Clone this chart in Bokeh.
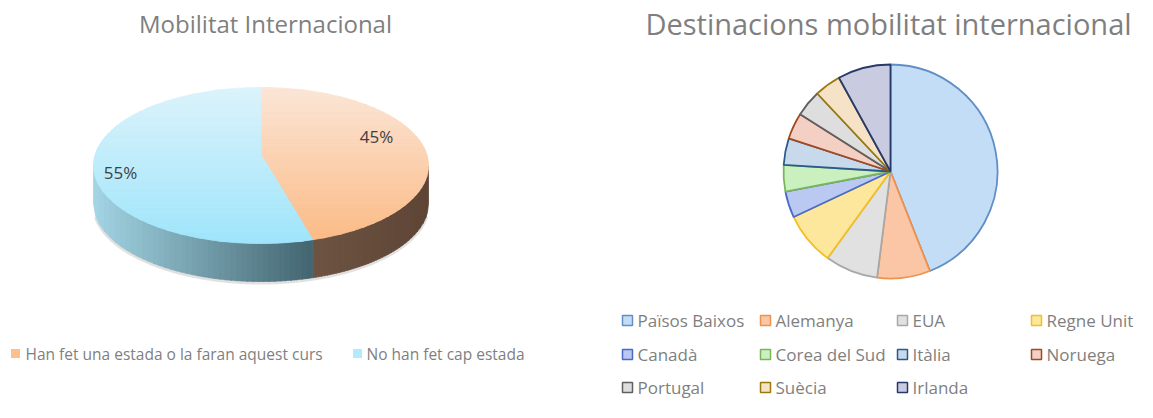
import numpy as np
from bokeh.plotting import figure
from bokeh.models import Range1d, ColumnDataSource
from bokeh.core.properties import value
from bokeh.embed import file_html
from bokeh.resources import INLINE

# ---------------- data ----------------
mob_title = "Mobilitat Internacional"
mob_labels = ["Han fet una estada o la faran aquest curs", "No han fet cap estada"]
mob_values = [45, 55]

dest_title = "Destinacions mobilitat internacional"
dest_labels = ["Països Baixos", "Alemanya", "EUA", "Regne Unit", "Canadà",
               "Corea del Sud", "Itàlia", "Noruega", "Portugal", "Suècia", "Irlanda"]
dest_values = [11, 2, 2, 2, 1, 1, 1, 1, 1, 1, 2]

# ---------------- styles ----------------
dest_fill = ["#c4ddf7", "#fbc6a6", "#e1e1e1", "#fde79c", "#b9c9f2", "#cbf0c0",
             "#c9d9ec", "#f4cfc4", "#dedede", "#f6e2c6", "#c9cce0"]
dest_line = ["#5f8fc4", "#f0914e", "#a8a8a8", "#f2c020", "#4a6ac8", "#7ab55c",
             "#2a5a8a", "#a04a20", "#606060", "#9a7a10", "#253a6a"]
mob_top_grad = [("#fbe6d8", "#fbba84"), ("#dcf3fb", "#9fe5fb")]
mob_side_grad = [("#6e5442", "#5e4536"), ("#a3d5e4", "#436570")]
mob_legend_col = ["#fcbf8d", "#b0ecfc"]
TXT = "#7f7f7f"
FONT = "Open Sans"

W, H = 1137, 402
p = figure(width=W, height=H, output_backend="svg", toolbar_location=None,
           x_range=Range1d(0, W), y_range=Range1d(-H, 0),
           min_border=0, x_axis_location=None, y_axis_location=None,
           outline_line_color=None, background_fill_color="white")
p.grid.visible = False


def hex2rgb(h):
    h = h.lstrip("#")
    return np.array([int(h[i:i + 2], 16) for i in (0, 2, 4)], dtype=float)


def lerp(c0, c1, t):
    c = hex2rgb(c0) * (1 - t) + hex2rgb(c1) * t
    return "#%02x%02x%02x" % tuple(int(round(v)) for v in c)


def clip(poly, inside, inter):
    out = []
    n = len(poly)
    for i in range(n):
        cur, prev = poly[i], poly[i - 1]
        if inside(cur):
            if not inside(prev):
                out.append(inter(prev, cur))
            out.append(cur)
        elif inside(prev):
            out.append(inter(prev, cur))
    return out


def y_inter(Y):
    def f(a, b):
        t = (Y - a[1]) / (b[1] - a[1])
        return (a[0] + t * (b[0] - a[0]), Y)
    return f


# ---------------- left: 3D pie ----------------
cx, cy, a, b, depth = 260.5, 165.0, 167.5, 78.0, 38.0
apex = (260.5, 154.0)
fr = np.cumsum([0] + mob_values) / float(sum(mob_values))

top_xs, top_ys, top_cols = [], [], []
side_xs, side_ys, side_cols = [], [], []
NB = 44
for k in range(len(mob_values)):
    t0, t1 = 2 * np.pi * fr[k], 2 * np.pi * fr[k + 1]
    th = np.linspace(t0, t1, 160)
    poly = [apex] + [(cx + a * np.sin(t), cy - b * np.cos(t)) for t in th]
    edges = np.linspace(cy - b - 1, cy + b + 1, NB + 1)
    for j in range(NB):
        y0, y1 = edges[j], edges[j + 1] + 0.6
        q = clip(poly, lambda pt, y0=y0: pt[1] >= y0, y_inter(y0))
        if len(q) < 3:
            continue
        q = clip(q, lambda pt, y1=y1: pt[1] <= y1, y_inter(y1))
        if len(q) < 3:
            continue
        top_xs.append([pt[0] for pt in q])
        top_ys.append([-pt[1] for pt in q])
        top_cols.append(lerp(*mob_top_grad[k], (j + 0.5) / NB))
    # visible side: front half (pi/2 .. 3pi/2)
    s0, s1 = max(t0, np.pi / 2), min(t1, 3 * np.pi / 2)
    if s1 > s0:
        xa, xb = cx + a * np.sin(s0), cx + a * np.sin(s1)
        xl, xr = min(xa, xb), max(xa, xb)
        NS = 40
        xe = np.linspace(xl, xr, NS + 1)
        for j in range(NS):
            xx = np.linspace(xe[j], min(xe[j + 1] + 0.6, xr), 4)
            yt = cy + b * np.sqrt(np.clip(1 - ((xx - cx) / a) ** 2, 0, 1))
            sx = list(xx) + list(xx[::-1])
            sy = list(yt) + list((yt + depth)[::-1])
            side_xs.append(sx)
            side_ys.append([-v for v in sy])
            side_cols.append(lerp(*mob_side_grad[k], (j + 0.5) / NS))

# soft shadow below the side
xx = np.linspace(cx - a + 2, cx + a - 2, 200)
ysh = cy + b * np.sqrt(np.clip(1 - ((xx - cx) / a) ** 2, 0, 1)) + depth + 1.5
p.line(list(xx), list(-ysh), line_color="#bdbdbd", line_width=3, line_alpha=0.45)

p.patches(side_xs, side_ys, fill_color=side_cols, line_color=side_cols, line_width=0.8)
p.patches(top_xs, top_ys, fill_color=top_cols, line_color=top_cols, line_width=0.8)

pct = ["%d%%" % v for v in mob_values]
p.text(x=[376, 120], y=[-136, -172], text=pct, text_font=value(FONT),
       text_font_size="17px", text_color="#404040", text_align="center",
       text_baseline="middle")

p.text(x=[265], y=[-23], text=[mob_title], text_font=value(FONT),
       text_font_size="24px", text_color=TXT, text_align="center", text_baseline="middle")

p.scatter(x=[15, 357], y=[-353, -353], marker="square", size=9,
          fill_color=mob_legend_col, line_color=None)
p.text(x=[25, 366], y=[-353, -353], text=mob_labels, text_font=value(FONT),
       text_font_size="15.5px", text_color=TXT, text_align="left", text_baseline="middle")

# ---------------- right: pie ----------------
dfr = np.cumsum([0] + dest_values) / float(sum(dest_values))
src = ColumnDataSource(dict(
    start=[np.pi / 2 - 2 * np.pi * dfr[i] for i in range(len(dest_values))],
    end=[np.pi / 2 - 2 * np.pi * dfr[i + 1] for i in range(len(dest_values))],
    fill=dest_fill, line=dest_line, label=dest_labels))
p.wedge(x=890, y=-171, radius=107, start_angle="start", end_angle="end",
        direction="clock", fill_color="fill", line_color="line", line_width=1.8,
        source=src)

p.text(x=[888], y=[-23], text=[dest_title], text_font=value(FONT),
       text_font_size="29px", text_color=TXT, text_align="center", text_baseline="middle")

col_sq = [627, 765, 902, 1036]
row_y = [320, 354, 387]
lx, ly, tx = [], [], []
for i in range(len(dest_labels)):
    r, c = divmod(i, 4)
    lx.append(col_sq[c])
    ly.append(-row_y[r])
    tx.append(col_sq[c] + 10)
p.scatter(x=lx, y=ly, marker="square", size=10, fill_color=dest_fill,
          line_color=dest_line, line_width=1.5)
p.text(x=tx, y=ly, text=dest_labels, text_font=value(FONT), text_font_size="17px",
       text_color=TXT, text_align="left", text_baseline="middle")

open("out.html", "w").write(file_html(p, INLINE))
